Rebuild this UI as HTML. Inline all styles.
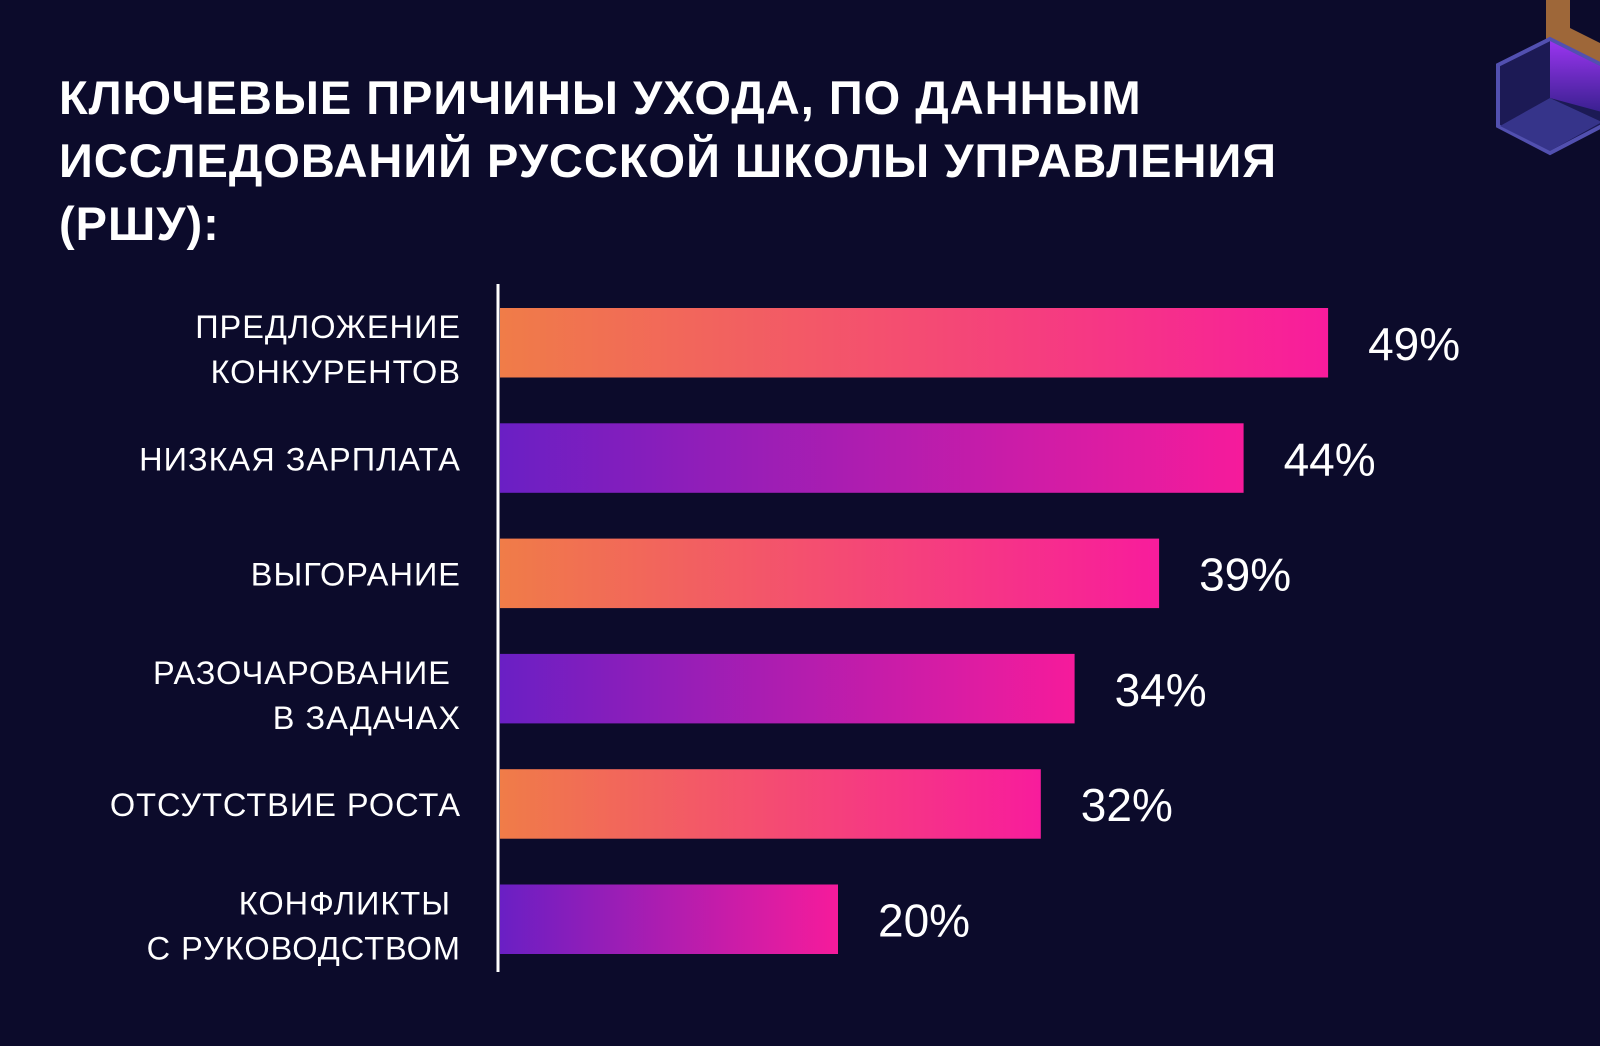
<!DOCTYPE html>
<html><head><meta charset="utf-8"><style>
html,body{margin:0;padding:0}
body{width:1600px;height:1046px;background:#0c0b2b;overflow:hidden;position:relative;font-family:"Liberation Sans","DejaVu Sans",sans-serif;color:#fff}
h1{position:absolute;left:59px;top:66px;margin:0;font-size:47px;line-height:63px;font-weight:bold;letter-spacing:1px;white-space:nowrap}
svg{position:absolute;left:0;top:0}
</style></head><body>
<h1>КЛЮЧЕВЫЕ ПРИЧИНЫ УХОДА, ПО ДАННЫМ<br>ИССЛЕДОВАНИЙ РУССКОЙ ШКОЛЫ УПРАВЛЕНИЯ<br>(РШУ):</h1>
<svg id="chart" width="1600" height="1046">
<defs>
<linearGradient id="gO" x1="0" x2="1"><stop offset="0" stop-color="#f07c48"/><stop offset="1" stop-color="#f81c9c"/></linearGradient>
<linearGradient id="gP" x1="0" x2="1"><stop offset="0" stop-color="#6a1fc4"/><stop offset="1" stop-color="#f61b9b"/></linearGradient>
<linearGradient id="gC" x1="0" y1="0" x2="0" y2="1"><stop offset="0" stop-color="#9a35f0"/><stop offset="1" stop-color="#3a2090"/></linearGradient>
</defs>
<g>
<polygon points="1546,0 1570,0 1570,28 1602,44 1602,68 1546,40" fill="#b8783c" opacity="0.85"/>
<polygon points="1550,39 1602,65 1602,126 1550,153 1498,126 1498,65" fill="#1c1a55" stroke="#5250b0" stroke-width="4"/>
<polygon points="1550,41 1602,67 1602,112 1550,98" fill="url(#gC)"/>
<polygon points="1500,126 1550,98 1602,122 1550,151" fill="#36348a"/>
</g>
<line x1="498" y1="284" x2="498" y2="972" stroke="#fff" stroke-width="3"/>
</svg>
<script>
const categories=[["ПРЕДЛОЖЕНИЕ","КОНКУРЕНТОВ"],["НИЗКАЯ ЗАРПЛАТА"],["ВЫГОРАНИЕ"],["РАЗОЧАРОВАНИЕ\u00a0","В ЗАДАЧАХ"],["ОТСУТСТВИЕ РОСТА"],["КОНФЛИКТЫ\u00a0","С РУКОВОДСТВОМ"]];
const values=[49,44,39,34,32,20];
const valueLabels=["49%","44%","39%","34%","32%","20%"];
const svg=document.getElementById('chart');
const NS="http://www.w3.org/2000/svg";
const x0=500;
function xScale(v){return x0+v*16.9;}
function yScale(i){return 308+i*115.3;}
values.forEach((v,i)=>{
  const y=yScale(i);
  const r=document.createElementNS(NS,'rect');
  r.setAttribute('x',x0);r.setAttribute('y',y);
  r.setAttribute('width',xScale(v)-x0);r.setAttribute('height',69.5);
  r.setAttribute('fill',i%2?'url(#gP)':'url(#gO)');
  
  
  svg.appendChild(r);
  const t=document.createElementNS(NS,'text');
  t.setAttribute('x',xScale(v)+40);t.setAttribute('y',y+52);
  t.setAttribute('fill','#fff');t.setAttribute('font-size','46');
  t.setAttribute('font-family','Liberation Sans, sans-serif');
  t.textContent=valueLabels[i];
  
  
  svg.appendChild(t);
  const lines=categories[i];
  lines.forEach((ln,j)=>{
    const c=document.createElementNS(NS,'text');
    c.setAttribute('x',461);
    const cy=lines.length===1?y+47:y+30+j*45;
    c.setAttribute('y',cy);
    c.setAttribute('text-anchor','end');
    c.setAttribute('fill','#fff');c.setAttribute('font-size','32.5');
    c.setAttribute('letter-spacing','1');
    c.setAttribute('font-family','Liberation Sans, sans-serif');
    c.textContent=ln;
    
    
    svg.appendChild(c);
  });
});
</script>
</body></html>
